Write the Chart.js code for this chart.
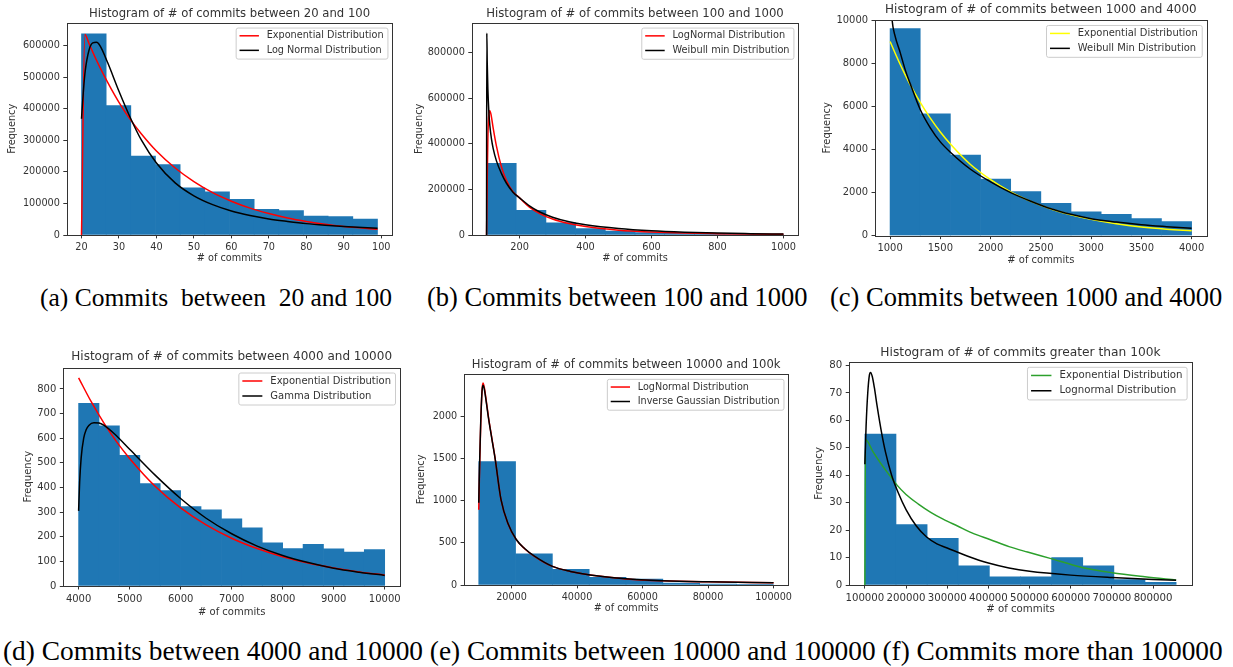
<!DOCTYPE html>
<html lang="en">
<head>
<meta charset="UTF-8">
<title>Histograms of # of commits</title>
<script src="https://cdn.jsdelivr.net/npm/chart.js@4.4.1/dist/chart.umd.min.js"></script>
<style>
  html, body { margin: 0; padding: 0; background: #fff; overflow: hidden; }
  #page { position: relative; width: 1233px; height: 667px; overflow: hidden; background: #fff; }
  #page canvas { position: absolute; }
  .cap { position: absolute; font-family: "Liberation Serif", "Times New Roman", serif; color: #000; white-space: pre; line-height: 1; }
</style>
</head>
<body>
<div id="page">
  <div class="cap" style="left:40px; top:285px; font-size:25.5px;">(a) Commits  between  20 and 100</div>
  <div class="cap" style="left:427px; top:284px; font-size:26.5px;">(b) Commits between 100 and 1000</div>
  <div class="cap" style="left:830px; top:284px; font-size:26.5px;">(c) Commits between 1000 and 4000</div>
  <div class="cap" style="left:3px; top:638px; font-size:27.35px;">(d) Commits between 4000 and 10000 (e) Commits between 10000 and 100000 (f) Commits more than 100000</div>
</div>
<script>
// ---- (a) between 20 and 100
const aEdges = [20, 26.583, 33.167, 39.75, 46.333, 52.917, 59.5, 66.083, 72.667, 79.25, 85.833, 92.417, 99];
const aCounts = [637000, 410000, 250000, 223000, 149000, 137000, 113000, 81000, 77000, 60000, 58000, 50000];
const aExpX = [20, 20.9, 22, 24, 26, 28, 30, 33, 36, 40, 45, 50, 55, 60, 65, 70, 75, 80, 85, 90, 95, 99];
const aExpY = [0, 635000, 606000, 553000, 505000, 461000, 420000, 366000, 320000, 266000, 212000, 169000, 134000, 107000, 85000, 68000, 54000, 43000, 34000, 27000, 22000, 18000];
const aLogX = [20, 20.5, 21, 22, 23, 24, 25, 27, 30, 33, 36, 40, 45, 50, 55, 60, 65, 70, 75, 80, 85, 90, 95, 99];
const aLogY = [368000, 455000, 520000, 585000, 608000, 610000, 598000, 545000, 455000, 372000, 300000, 228000, 165000, 124000, 96000, 76000, 62000, 51000, 43000, 36000, 31000, 27000, 23500, 21000];
const aXTicks = [20, 30, 40, 50, 60, 70, 80, 90, 100];
const aYTicks = [0, 100000, 200000, 300000, 400000, 500000, 600000];

// ---- (b) between 100 and 1000
const bEdges = [100, 190, 280, 370, 460, 550, 640, 730, 820, 910, 1000];
const bCounts = [314000, 108000, 53000, 28000, 17000, 10500, 7000, 4800, 3400, 2500];
const bLogX = [100, 102, 104, 107, 110, 114, 120, 130, 145, 160, 180, 200, 230, 260, 300, 350, 400, 500, 600, 700, 800, 900, 1000];
const bLogY = [0, 230000, 420000, 530000, 545000, 525000, 470000, 390000, 300000, 240000, 190000, 163000, 122000, 95000, 70000, 50000, 37000, 21000, 13000, 8500, 6000, 4200, 3000];
const bWeiX = [100, 100.8, 102, 104, 107, 110, 115, 120, 130, 145, 160, 180, 200, 230, 260, 300, 350, 400, 500, 600, 700, 800, 900, 1000];
const bWeiY = [0, 885000, 760000, 640000, 540000, 480000, 420000, 380000, 325000, 270000, 228000, 188000, 163000, 128000, 102000, 78000, 58000, 45000, 28500, 18500, 12500, 8500, 6000, 4000];
const bXTicks = [200, 400, 600, 800, 1000];
const bYTicks = [0, 200000, 400000, 600000, 800000];

// ---- (c) between 1000 and 4000
const cEdges = [1000, 1300, 1600, 1900, 2200, 2500, 2800, 3100, 3400, 3700, 4000];
const cCounts = [9600, 5650, 3740, 2630, 2040, 1500, 1110, 990, 790, 650];
const cExpX = [1000, 1100, 1200, 1300, 1400, 1500, 1600, 1800, 2000, 2200, 2400, 2600, 2800, 3000, 3250, 3500, 3750, 4000];
const cExpY = [9000, 7950, 7000, 6180, 5450, 4810, 4250, 3300, 2600, 2030, 1590, 1240, 970, 760, 550, 400, 300, 230];
const cWeiX = [1000, 1020, 1050, 1100, 1150, 1200, 1300, 1400, 1500, 1600, 1800, 2000, 2200, 2400, 2600, 2800, 3000, 3250, 3500, 3750, 4000];
const cWeiY = [11500, 10000, 9250, 8500, 7700, 7050, 5850, 5000, 4350, 3870, 3080, 2500, 2000, 1600, 1250, 990, 790, 630, 510, 420, 340];
const cXTicks = [1000, 1500, 2000, 2500, 3000, 3500, 4000];
const cYTicks = [0, 2000, 4000, 6000, 8000, 10000];

// ---- (d) between 4000 and 10000
const dEdges = [4000, 4400, 4800, 5200, 5600, 6000, 6400, 6800, 7200, 7600, 8000, 8400, 8800, 9200, 9600, 10000];
const dCounts = [742, 650, 530, 416, 387, 322, 309, 273, 236, 175, 152, 169, 151, 138, 148];
const dExpX = [4000, 4250, 4500, 4750, 5000, 5500, 6000, 6500, 7000, 7500, 8000, 8500, 9000, 9500, 10000];
const dExpY = [845, 747, 660, 584, 518, 405, 317, 248, 194, 152, 119, 93, 73, 57, 45];
const dGamX = [4000, 4020, 4050, 4100, 4150, 4200, 4300, 4400, 4500, 4700, 5000, 5500, 6000, 6500, 7000, 7500, 8000, 8500, 9000, 9500, 10000];
const dGamY = [305, 420, 520, 600, 635, 652, 663, 662, 652, 618, 555, 450, 355, 275, 212, 162, 124, 95, 72, 56, 43];
const dXTicks = [4000, 5000, 6000, 7000, 8000, 9000, 10000];
const dYTicks = [0, 100, 200, 300, 400, 500, 600, 700, 800];

// ---- (e) between 10000 and 100k
const eEdges = [10000, 21240, 32480, 43720, 54960, 66200, 77440, 88680, 99920];
const eCounts = [1460, 368, 186, 90, 70, 22, 12, 8];
const eCurveX = [10000, 10300, 10600, 11000, 11300, 11700, 12300, 13000, 14000, 15000, 16800, 19000, 21400, 24000, 27000, 32500, 38000, 44000, 55000, 66000, 80000, 100000];
const eLogY = [890, 1450, 1900, 2300, 2390, 2340, 2180, 1980, 1740, 1500, 1010, 720, 540, 430, 340, 220, 160, 118, 72, 50, 37, 26];
const eInvY = [975, 1500, 1920, 2290, 2365, 2320, 2165, 1970, 1730, 1495, 1010, 722, 542, 432, 342, 221, 161, 119, 73, 51, 38, 28];
const eXTicks = [20000, 40000, 60000, 80000, 100000];
const eYTicks = [0, 500, 1000, 1500, 2000];

// ---- (f) greater than 100k
const fEdges = [100000, 175600, 251200, 326800, 402400, 478000, 553600, 629200, 704800, 780400, 856000];
const fCounts = [55, 22, 17, 7, 3, 3, 10, 7, 2, 1];
const fExpX = [100000, 101500, 120000, 140000, 160000, 177600, 200000, 230000, 260000, 290000, 325000, 360000, 405000, 450000, 495000, 550000, 625000, 700000, 780000, 856000];
const fExpY = [0, 53, 48.5, 44, 40, 36.5, 33, 29.5, 26.5, 24, 21.5, 19, 16.5, 14, 12, 9.7, 6.5, 4.5, 3, 1.8];
const fLogX = [100000, 103000, 107000, 111000, 114000, 118000, 123000, 130000, 140000, 150000, 165000, 180000, 200000, 225000, 250000, 275000, 300000, 350000, 400000, 450000, 500000, 600000, 700000, 800000, 856000];
const fLogY = [44, 58, 70, 76.5, 77.5, 76, 72, 65, 56, 48.5, 40, 34, 27.5, 21.5, 17.5, 15, 13.5, 10.5, 8, 6.2, 5, 3.6, 2.7, 2.0, 1.7];
const fXTicks = [100000, 200000, 300000, 400000, 500000, 600000, 700000, 800000];
const fYTicks = [0, 10, 20, 30, 40, 50, 60, 70, 80];

const FONT = '"DejaVu Sans", sans-serif';
const INK = '#333333';
const BAR = '#1f77b4';

function pts(xs, ys) { return xs.map((x, i) => ({ x: x, y: ys[i] })); }
function bins(edges, counts) { return counts.map((c, i) => ({ x: (edges[i] + edges[i + 1]) / 2, y: c })); }

// spines on all four sides, like matplotlib
const framePlugin = {
  id: 'frame',
  afterDatasetsDraw(chart) {
    const a = chart.chartArea, ctx = chart.ctx;
    const l = Math.round(a.left) + 0.5, t = Math.round(a.top) + 0.5;
    const r = Math.round(a.right) + 0.5, b = Math.round(a.bottom) + 0.5;
    ctx.save();
    ctx.strokeStyle = INK;
    ctx.lineWidth = 1;
    ctx.strokeRect(l, t, r - l, b - t);
    ctx.restore();
  }
};

// legend box in the upper right corner of the axes
const boxLegend = {
  id: 'boxLegend',
  afterDraw(chart, args, opts) {
    const ctx = chart.ctx, a = chart.chartArea, fs = opts.size;
    ctx.save();
    ctx.font = fs + 'px ' + FONT;
    const tw = Math.max.apply(null, opts.items.map(it => ctx.measureText(it.text).width));
    const w = tw + 3.6 * fs;
    const h = 1.7 * fs + 1.5 * fs * (opts.items.length - 1);
    const x0 = a.right - 0.5 * fs - w, y0 = a.top + 0.5 * fs;
    ctx.beginPath();
    if (ctx.roundRect) ctx.roundRect(x0 + 0.5, y0 + 0.5, w, h, 2); else ctx.rect(x0 + 0.5, y0 + 0.5, w, h);
    ctx.fillStyle = 'rgba(255,255,255,0.8)';
    ctx.fill();
    ctx.strokeStyle = '#cccccc';
    ctx.lineWidth = 1;
    ctx.stroke();
    opts.items.forEach((it, i) => {
      const cy = y0 + 0.85 * fs + 1.5 * fs * i;
      ctx.beginPath();
      ctx.moveTo(x0 + 0.4 * fs, cy);
      ctx.lineTo(x0 + 2.4 * fs, cy);
      ctx.strokeStyle = it.color;
      ctx.lineWidth = 1.5;
      ctx.stroke();
      ctx.fillStyle = INK;
      ctx.textBaseline = 'middle';
      ctx.fillText(it.text, x0 + 3.2 * fs, cy);
    });
    ctx.restore();
  }
};

function makePanel(p) {
  const s = p.scale;
  const tickSize = 10 * s, titleSize = 12 * s, labelSize = 10 * s;
  const lhT = 1.2 * titleSize, lhL = 1.2 * labelSize;
  const L = Math.round(p.yLabelX - lhL / 2);
  const T = Math.round(p.titleY - lhT / 2);
  const W = Math.round(Math.min(p.plot.right + 25, 1233) - L);
  const H = Math.round(p.xLabelY + lhL / 2 - T);
  const yW = p.plot.left - L;
  const xH = T + H - p.plot.bottom;
  const padR = L + W - p.plot.right;
  const titlePadB = p.plot.top - T - lhT;

  const canvas = document.createElement('canvas');
  canvas.width = W; canvas.height = H;
  canvas.style.left = L + 'px'; canvas.style.top = T + 'px';
  canvas.style.width = W + 'px'; canvas.style.height = H + 'px';
  document.getElementById('page').appendChild(canvas);

  const tickGrid = { display: true, offset: false, drawOnChartArea: false, drawTicks: true, tickLength: 3.5 * s, tickColor: INK, tickWidth: 1 };
  const tickOpts = { autoSkip: false, maxRotation: 0, minRotation: 0,
    padding: 3.5 * s, color: INK, font: { family: FONT, size: tickSize }, callback: v => String(v) };
  const fixTicks = values => sc => { sc.ticks = values.map(v => ({ value: v })); };

  new Chart(canvas, {
    type: 'bar',
    data: {
      datasets: [
        { type: 'line', data: pts(p.c1x, p.c1y), borderColor: p.c1color, borderWidth: 1.5, pointRadius: 0, cubicInterpolationMode: 'monotone', order: 1 },
        { type: 'line', data: pts(p.c2x, p.c2y), borderColor: p.c2color, borderWidth: 1.5, pointRadius: 0, cubicInterpolationMode: 'monotone', order: 0 },
        { type: 'bar', data: bins(p.edges, p.counts), backgroundColor: BAR, borderWidth: 0,
          barPercentage: 1, categoryPercentage: 1, order: 2 }
      ]
    },
    options: {
      responsive: false, animation: false, events: [], devicePixelRatio: 1,
      layout: { padding: { left: 0, top: 0, right: padR, bottom: 0 } },
      scales: {
        x: { type: 'linear', min: p.xlim[0], max: p.xlim[1], offset: false, grid: tickGrid, border: { display: false },
             ticks: tickOpts, afterBuildTicks: fixTicks(p.xticks),
             title: { display: true, text: '# of commits', color: INK, font: { family: FONT, size: labelSize }, padding: 0 },
             afterFit: sc => { sc.height = xH; } },
        y: { type: 'linear', min: p.ylim[0], max: p.ylim[1], grid: tickGrid, border: { display: false },
             ticks: tickOpts, afterBuildTicks: fixTicks(p.yticks),
             title: { display: true, text: 'Frequency', color: INK, font: { family: FONT, size: labelSize }, padding: 0 },
             afterFit: sc => { sc.width = yW; } }
      },
      plugins: {
        legend: { display: false },
        tooltip: { enabled: false },
        title: { display: true, text: p.title, fullSize: false, color: INK,
                 font: { family: FONT, size: titleSize, weight: 'normal' }, padding: { top: 0, bottom: titlePadB } },
        boxLegend: { size: 10 * s, items: [ { text: p.c1label, color: p.c1color }, { text: p.c2label, color: p.c2color } ] }
      }
    },
    plugins: [framePlugin, boxLegend]
  });
}

const panels = [
  { title: 'Histogram of # of commits between 20 and 100', scale: 0.97,
    plot: { left: 66.7, top: 22.7, right: 392.3, bottom: 235 }, yLabelX: 13.3, xLabelY: 258.3, titleY: 14,
    xlim: [16.05, 102.95], ylim: [0, 672000], xticks: aXTicks, yticks: aYTicks,
    edges: aEdges, counts: aCounts,
    c1x: aExpX, c1y: aExpY, c1color: '#ff0000', c1label: 'Exponential Distribution',
    c2x: aLogX, c2y: aLogY, c2color: '#000000', c2label: 'Log Normal Distribution' },
  { title: 'Histogram of # of commits between 100 and 1000', scale: 0.975,
    plot: { left: 471.7, top: 22.7, right: 798.3, bottom: 235 }, yLabelX: 420, xLabelY: 258.3, titleY: 14,
    xlim: [55, 1045], ylim: [0, 931000], xticks: bXTicks, yticks: bYTicks,
    edges: bEdges, counts: bCounts,
    c1x: bLogX, c1y: bLogY, c1color: '#ff0000', c1label: 'LogNormal Distribution',
    c2x: bWeiX, c2y: bWeiY, c2color: '#000000', c2label: 'Weibull min Distribution' },
  { title: 'Histogram of # of commits between 1000 and 4000', scale: 0.995,
    plot: { left: 875, top: 20, right: 1206.7, bottom: 235.7 }, yLabelX: 826.7, xLabelY: 260, titleY: 10,
    xlim: [850, 4150], ylim: [0, 10000], xticks: cXTicks, yticks: cYTicks,
    edges: cEdges, counts: cCounts,
    c1x: cExpX, c1y: cExpY, c1color: '#ffff00', c1label: 'Exponential Distribution',
    c2x: cWeiX, c2y: cWeiY, c2color: '#000000', c2label: 'Weibull Min Distribution' },
  { title: 'Histogram of # of commits between 4000 and 10000', scale: 1.0,
    plot: { left: 63.3, top: 367.5, right: 400, bottom: 586 }, yLabelX: 28.3, xLabelY: 611.7, titleY: 356.7,
    xlim: [3700, 10300], ylim: [0, 887], xticks: dXTicks, yticks: dYTicks,
    edges: dEdges, counts: dCounts,
    c1x: dExpX, c1y: dExpY, c1color: '#ff0000', c1label: 'Exponential Distribution',
    c2x: dGamX, c2y: dGamY, c2color: '#000000', c2label: 'Gamma Distribution' },
  { title: 'Histogram of # of commits between 10000 and 100k', scale: 0.965,
    plot: { left: 464, top: 374, right: 788.3, bottom: 585 }, yLabelX: 421.7, xLabelY: 608.3, titleY: 365,
    xlim: [5500, 104500], ylim: [0, 2498], xticks: eXTicks, yticks: eYTicks,
    edges: eEdges, counts: eCounts,
    c1x: eCurveX, c1y: eLogY, c1color: '#ff0000', c1label: 'LogNormal Distribution',
    c2x: eCurveX, c2y: eInvY, c2color: '#000000', c2label: 'Inverse Gaussian Distribution' },
  { title: 'Histogram of # of commits greater than 100k', scale: 1.02,
    plot: { left: 849.3, top: 361.7, right: 1191.7, bottom: 585 }, yLabelX: 819.3, xLabelY: 609.3, titleY: 352.7,
    xlim: [62200, 893800], ylim: [0, 81.4], xticks: fXTicks, yticks: fYTicks,
    edges: fEdges, counts: fCounts,
    c1x: fExpX, c1y: fExpY, c1color: '#2ca02c', c1label: 'Exponential Distribution',
    c2x: fLogX, c2y: fLogY, c2color: '#000000', c2label: 'Lognormal Distribution' }
];

panels.forEach(makePanel);
</script>
</body>
</html>
